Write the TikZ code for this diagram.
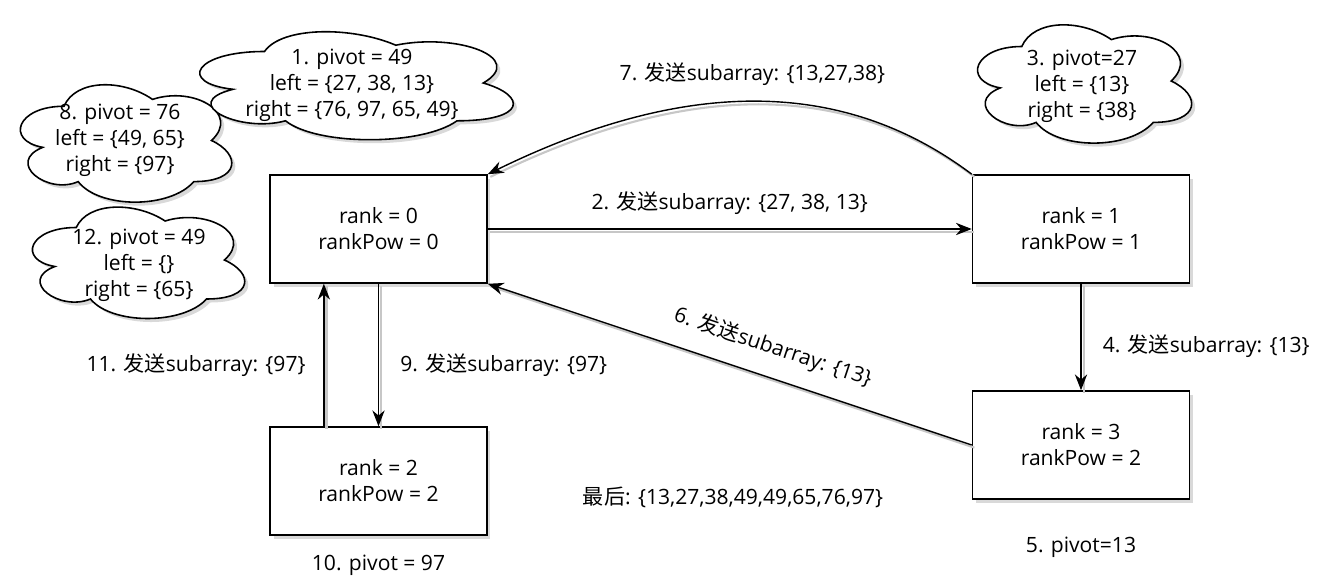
\documentclass[tikz,border=0pt]{standalone}
\usepackage{fontspec}
\setmainfont{Open Sans}
\newfontfamily\cjk{Noto Sans CJK SC}
\usetikzlibrary{arrows.meta,calc,positioning,shadows}

\newcommand{\fasong}{{\cjk 发送}}
% cloud outline: left, top, width, height (px)
\newcommand{\cloudat}[4]{%
  \begin{scope}[shift={(#1,#2)}, x={(#3*0.02cm,0)}, y={(0,-#4*0.02cm)}]
    \path[cloudline] (0.25,0.25) .. controls (0.05,0.25) and (0,0.5) .. (0.16,0.55)
      .. controls (0,0.66) and (0.18,0.9) .. (0.31,0.8)
      .. controls (0.4,1) and (0.7,1) .. (0.8,0.8)
      .. controls (1,0.8) and (1,0.6) .. (0.875,0.5)
      .. controls (1,0.3) and (0.8,0.1) .. (0.625,0.2)
      .. controls (0.5,0.05) and (0.3,0.05) .. (0.25,0.25) -- cycle;
  \end{scope}}

\begin{document}
\begin{tikzpicture}[x=0.02cm, y=-0.02cm,
  every node/.style={font=\fontsize{12}{14.7}\selectfont, align=center, inner sep=2pt},
  rankbox/.style={draw, line width=0.9pt, fill=white, minimum width=4.34cm, minimum height=2.16cm,
    drop shadow={shadow xshift=2pt, shadow yshift=-2pt, opacity=0.3}},
  cloudline/.style={draw, line width=0.9pt, fill=white,
    drop shadow={shadow xshift=2pt, shadow yshift=-2pt, opacity=0.3}},
  msg/.style={line width=0.8pt, -{Stealth[length=9pt,width=7pt]},
    preaction={draw=black!22, line width=1.2pt, -, transform canvas={shift={(1.5pt,-1.5pt)}}}},
  note/.style={inner sep=3pt}
]
\useasboundingbox (0,0) rectangle (1321,581);

% ranks
\node[rankbox] (r0) at (378.5,229) {rank = 0\\rankPow = 0};
\node[rankbox] (r1) at (1081,229)  {rank = 1\\rankPow = 1};
\node[rankbox] (r3) at (1081,445)  {rank = 3\\rankPow = 2};
\node[rankbox] (r2) at (378.5,481) {rank = 2\\rankPow = 2};

% clouds
\cloudat{5}{72}{236}{137}
\node (c8) at (120,140) {8. pivot = 76\\left = \{49, 65\}\\right = \{97\}};
\cloudat{177}{20}{350}{126}
\node (c1) at (352,85) {1. pivot = 49\\left = \{27, 38, 13\}\\right = \{76, 97, 65, 49\}};
\cloudat{17}{195}{237}{130}
\node (c12) at (139,265) {12. pivot = 49\\left = \{\}\\right = \{65\}};
\cloudat{962}{12}{239}{138}
\node (c3) at (1082,86) {3. pivot=27\\left = \{13\}\\right = \{38\}};

% messages
\draw[msg] (r0.east) -- node[above=6pt] (m2) {2. \fasong subarray: \{27, 38, 13\}} (r1.west);
\draw[msg] (r1.north west) .. controls (840,75) and (680,80) .. node[above=7pt] (m7) {7. \fasong subarray: \{13,27,38\}} (r0.north east);
\draw[msg] (r1.south) -- node[pos=0.59, right=10pt] (m4) {4. \fasong subarray: \{13\}} (r3.north);
\draw[msg] (r3.west) -- node[pos=0.43, sloped, above=8pt] (m6) {6. \fasong subarray: \{13\}} (r0.south east);
\draw[msg] (r0.south) -- node[pos=0.57, right=10pt] (m9) {9. \fasong subarray: \{97\}} (r2.north);
\draw[msg] ($(r2.north west)!0.25!(r2.north east)$) -- node[pos=0.43, left=8pt] (m11) {11. \fasong subarray: \{97\}} ($(r0.south west)!0.25!(r0.south east)$);

% notes
\node[note, below=7.5pt of r2] (p10) {10. pivot = 97};
\node[note, below=18pt of r3] (p5) {5. pivot=13};
\node[note] (final) at (733,497) {{\cjk 最后}: \{13,27,38,49,49,65,76,97\}};
\end{tikzpicture}
\end{document}
